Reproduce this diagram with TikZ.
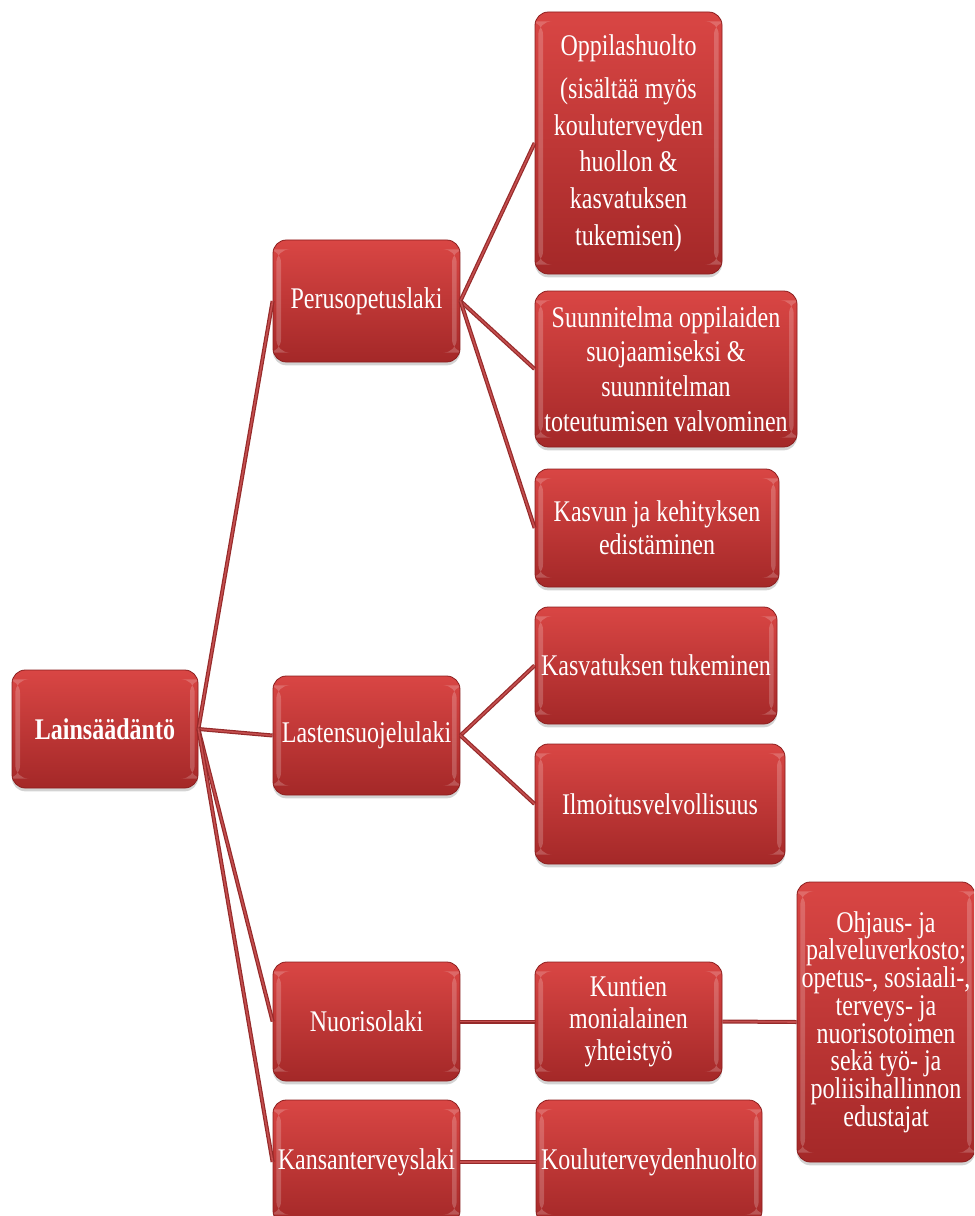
\documentclass[tikz,border=0pt]{standalone}
\usepackage{fontspec}
\setmainfont{Liberation Serif}[FakeStretch=0.8]
\usetikzlibrary{shadows}
\definecolor{boxtop}{RGB}{217,70,68}
\definecolor{boxbot}{RGB}{164,40,40}
\definecolor{boxline}{RGB}{140,30,30}
\definecolor{linkc}{RGB}{150,42,42}
\definecolor{linkl}{RGB}{196,78,78}
\begin{document}
\begin{tikzpicture}[x=0.75pt,y=-0.75pt,
  sz/.style 2 args={minimum width=#1*0.75pt, minimum height=#2*0.75pt},
  box/.style={draw=boxline, line width=0.6pt, rounded corners=10pt,
    top color=boxtop, bottom color=boxbot, text=white, align=center,
    inner sep=0pt, font=\fontsize{22.5}{26}\selectfont,
    drop shadow={shadow xshift=0pt,shadow yshift=-2.5pt,opacity=0.35},
    path picture={
      \fill[white,opacity=0.2] ([xshift=2.5pt,yshift=-7pt]path picture bounding box.north west) rectangle ([xshift=6pt,yshift=7pt]path picture bounding box.south west);
      \fill[white,opacity=0.2] ([xshift=-2.5pt,yshift=-7pt]path picture bounding box.north east) rectangle ([xshift=-6pt,yshift=7pt]path picture bounding box.south east);
    }},
  link/.style={draw=linkc, line width=0.9pt, double=linkl, double distance=1.2pt}]
\useasboundingbox (0,0) rectangle (974,1216);
\clip (0,0) rectangle (974,1216);
% nodes
\node[box, sz={186}{118}, font=\fontsize{22.5}{26}\selectfont\bfseries] (L) at (105,729) {Lainsäädäntö};
\node[box, sz={187}{122}] (P) at (366.5,301) {Perusopetuslaki};
\node[box, sz={187}{262}, font=\fontsize{22.5}{27.5}\selectfont] (O) at (628.5,143) {Oppilashuolto\\[5pt](sisältää myös\\kouluterveyden\\huollon \&\\kasvatuksen\\tukemisen)};
\node[box, sz={262}{156}] (S) at (666,369) {Suunnitelma oppilaiden\\suojaamiseksi \&\\suunnitelman\\toteutumisen valvominen};
\node[box, sz={244}{118}, font=\fontsize{22.5}{25}\selectfont] (K) at (657,528) {Kasvun ja kehityksen\\edistäminen};
\node[box, sz={187}{119}] (LS) at (366.5,735.5) {Lastensuojelulaki};
\node[box, sz={242}{117}] (KT) at (656,665.5) {Kasvatuksen tukeminen};
\node[box, sz={250}{120}] (I) at (660,804) {Ilmoitusvelvollisuus};
\node[box, sz={187}{119}] (N) at (366.5,1021.5) {Nuorisolaki};
\node[box, sz={187}{119}, font=\fontsize{22.5}{24}\selectfont] (KM) at (628.5,1021.5) {Kuntien\\monialainen\\yhteistyö};
\node[box, sz={178}{280}, font=\fontsize{22.5}{20.8}\selectfont] (OH) at (886,1022) {Ohjaus- ja\\palveluverkosto;\\opetus-, sosiaali-,\\terveys- ja\\nuorisotoimen\\sekä työ- ja\\poliisihallinnon\\edustajat};
\node[box, sz={187}{124}] (KA) at (366.5,1162) {Kansanterveyslaki};
\node[box, sz={226}{124}] (KO) at (649,1162) {Kouluterveydenhuolto};
% connectors
\draw[link] (L.east) -- (P.west);
\draw[link] (L.east) -- (LS.west);
\draw[link] (L.east) -- (N.west);
\draw[link] (L.east) -- (KA.west);
\draw[link] (P.east) -- (O.west);
\draw[link] (P.east) -- (S.west);
\draw[link] (P.east) -- (K.west);
\draw[link] (LS.east) -- (KT.west);
\draw[link] (LS.east) -- (I.west);
\draw[link] (N.east) -- (KM.west);
\draw[link] (KM.east) -- (OH.west);
\draw[link] (KA.east) -- (KO.west);
\end{tikzpicture}
\end{document}
